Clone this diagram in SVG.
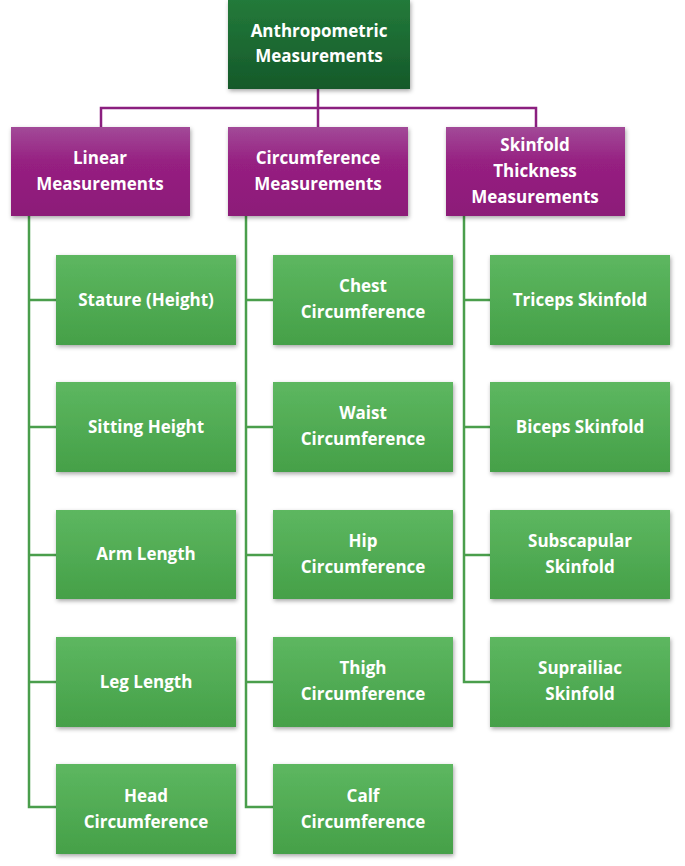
<svg xmlns="http://www.w3.org/2000/svg" width="685" height="866" viewBox="0 0 685 866">
<defs>
<linearGradient id="gr" x1="0" y1="0" x2="0" y2="1"><stop offset="0" stop-color="#237a3a"/><stop offset="1" stop-color="#15592a"/></linearGradient>
<linearGradient id="pu" x1="0" y1="0" x2="0" y2="1"><stop offset="0" stop-color="#a24a98"/><stop offset="0.4" stop-color="#962081"/><stop offset="1" stop-color="#8c1a78"/></linearGradient>
<linearGradient id="gn" x1="0" y1="0" x2="0" y2="1"><stop offset="0" stop-color="#5db760"/><stop offset="1" stop-color="#45a048"/></linearGradient>
<filter id="sh" x="-10%" y="-10%" width="125%" height="130%"><feDropShadow dx="1" dy="2" stdDeviation="2" flood-color="#000" flood-opacity="0.35"/></filter>
</defs>
<style>
text{font-family:"Open Sans","Liberation Sans",sans-serif;font-weight:bold;fill:#fff;text-anchor:middle;font-size:17px}
.r{fill:url(#gr);filter:url(#sh)}
.p{fill:url(#pu);filter:url(#sh)}
.g{fill:url(#gn);filter:url(#sh)}
.lp{stroke:#8b1f7f;stroke-width:2.5;fill:none}
.lg{stroke:#4a9e4c;stroke-width:2.5;fill:none}
</style>
<rect width="685" height="866" fill="#fff"/>
<g id="connectors">
<path class="lp" d="M318 89V108M101 127V108H536V127M318 108V127"/>
<path class="lg" d="M29 216V807H56M29 300H56M29 427H56M29 555H56M29 682H56"/>
<path class="lg" d="M246 216V807H273M246 300H273M246 427H273M246 555H273M246 682H273"/>
<path class="lg" d="M464 216V682H490M464 300H490M464 427H490M464 555H490"/>
</g>
<g id="root"><rect class="r" x="228" y="0" width="182" height="89"/><text x="319" y="37">Anthropometric</text><text x="319" y="62">Measurements</text></g>
<g id="linear"><rect class="p" x="11" y="127" width="179" height="89"/><text x="100" y="164">Linear</text><text x="100" y="190">Measurements</text></g>
<g id="circ"><rect class="p" x="228" y="127" width="180" height="89"/><text x="318" y="164">Circumference</text><text x="318" y="190">Measurements</text></g>
<g id="skin"><rect class="p" x="446" y="127" width="179" height="89"/><text x="535" y="151">Skinfold</text><text x="535" y="177">Thickness</text><text x="535" y="203">Measurements</text></g>
<g id="stature"><rect class="g" x="56" y="255" width="180" height="90"/><text x="146" y="306">Stature (Height)</text></g>
<g id="sitting"><rect class="g" x="56" y="382" width="180" height="90"/><text x="146" y="433">Sitting Height</text></g>
<g id="arm"><rect class="g" x="56" y="510" width="180" height="89"/><text x="146" y="560">Arm Length</text></g>
<g id="leg"><rect class="g" x="56" y="637" width="180" height="90"/><text x="146" y="688">Leg Length</text></g>
<g id="head"><rect class="g" x="56" y="764" width="180" height="90"/><text x="146" y="802">Head</text><text x="146" y="828">Circumference</text></g>
<g id="chest"><rect class="g" x="273" y="255" width="180" height="90"/><text x="363" y="292">Chest</text><text x="363" y="318">Circumference</text></g>
<g id="waist"><rect class="g" x="273" y="382" width="180" height="90"/><text x="363" y="419">Waist</text><text x="363" y="445">Circumference</text></g>
<g id="hip"><rect class="g" x="273" y="510" width="180" height="89"/><text x="363" y="547">Hip</text><text x="363" y="573">Circumference</text></g>
<g id="thigh"><rect class="g" x="273" y="637" width="180" height="90"/><text x="363" y="674">Thigh</text><text x="363" y="700">Circumference</text></g>
<g id="calf"><rect class="g" x="273" y="764" width="180" height="90"/><text x="363" y="802">Calf</text><text x="363" y="828">Circumference</text></g>
<g id="triceps"><rect class="g" x="490" y="255" width="180" height="90"/><text x="580" y="306">Triceps Skinfold</text></g>
<g id="biceps"><rect class="g" x="490" y="382" width="180" height="90"/><text x="580" y="433">Biceps Skinfold</text></g>
<g id="subscap"><rect class="g" x="490" y="510" width="180" height="89"/><text x="580" y="547">Subscapular</text><text x="580" y="573">Skinfold</text></g>
<g id="suprail"><rect class="g" x="490" y="637" width="180" height="90"/><text x="580" y="674">Suprailiac</text><text x="580" y="700">Skinfold</text></g>
</svg>
